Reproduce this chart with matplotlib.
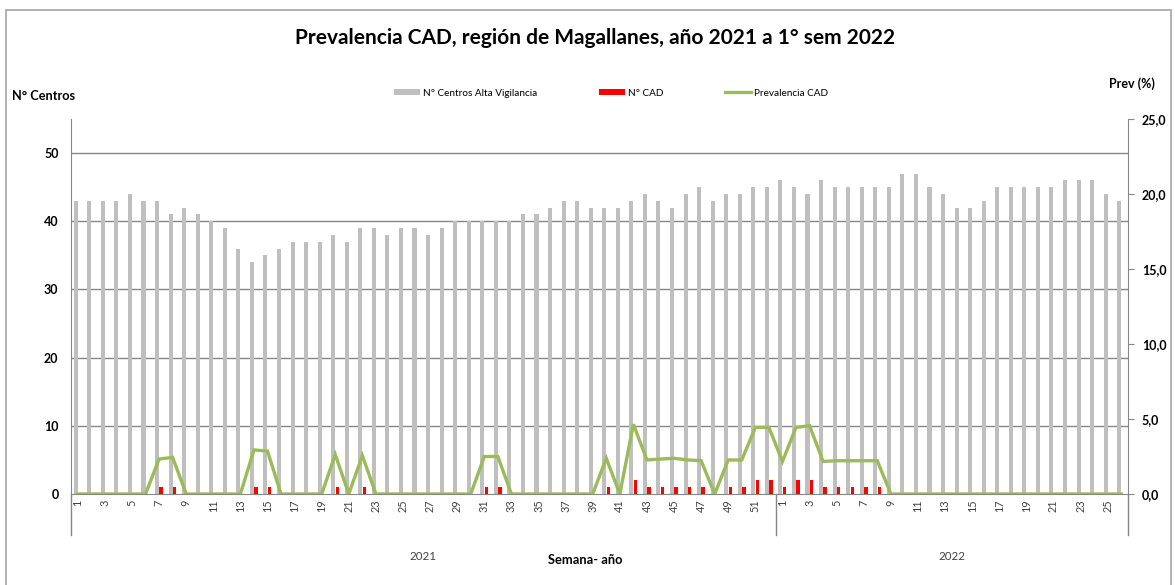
import matplotlib
matplotlib.use("Agg")
import matplotlib.pyplot as plt
from matplotlib.patches import Rectangle, Patch
from matplotlib.lines import Line2D
from matplotlib.ticker import FuncFormatter, FixedLocator
import numpy as np

plt.rcParams['font.family'] = ['Lato', 'DejaVu Sans']

# ---------------- data ----------------
weeks_2021 = list(range(1, 53))
weeks_2022 = list(range(1, 27))
week_labels = [str(w) for w in weeks_2021] + [str(w) for w in weeks_2022]
years = ["2021", "2022"]

centros_2021 = [43, 43, 43, 43, 44, 43, 43, 41, 42, 41, 40, 39, 36, 34, 35, 36, 37, 37, 37, 38,
                37, 39, 39, 38, 39, 39, 38, 39, 40, 40, 40, 40, 40, 41, 41, 42, 43, 43, 42, 42,
                42, 43, 44, 43, 42, 44, 45, 43, 44, 44, 45, 45]
centros_2022 = [46, 45, 44, 46, 45, 45, 45, 45, 45, 47, 47, 45, 44, 42, 42, 43, 45, 45, 45, 45,
                45, 46, 46, 46, 44, 43]

cad_2021 = [0, 0, 0, 0, 0, 0, 1, 1, 0, 0, 0, 0, 0, 1, 1, 0, 0, 0, 0, 1,
            0, 1, 0, 0, 0, 0, 0, 0, 0, 0, 1, 1, 0, 0, 0, 0, 0, 0, 0, 1,
            0, 2, 1, 1, 1, 1, 1, 0, 1, 1, 2, 2]
cad_2022 = [1, 2, 2, 1, 1, 1, 1, 1, 0, 0, 0, 0, 0, 0, 0, 0, 0, 0, 0, 0,
            0, 0, 0, 0, 0, 0]

prev_2021 = [0.0, 0.0, 0.0, 0.0, 0.0, 0.0, 2.33, 2.44, 0.0, 0.0, 0.0, 0.0, 0.0, 2.94, 2.86, 0.0,
             0.0, 0.0, 0.0, 2.63, 0.0, 2.56, 0.0, 0.0, 0.0, 0.0, 0.0, 0.0, 0.0, 0.0, 2.50, 2.50,
             0.0, 0.0, 0.0, 0.0, 0.0, 0.0, 0.0, 2.38, 0.0, 4.65, 2.27, 2.33, 2.38, 2.27, 2.22, 0.0,
             2.27, 2.27, 4.44, 4.44]
prev_2022 = [2.17, 4.44, 4.55, 2.17, 2.22, 2.22, 2.22, 2.22, 0.0, 0.0, 0.0, 0.0, 0.0, 0.0, 0.0,
             0.0, 0.0, 0.0, 0.0, 0.0, 0.0, 0.0, 0.0, 0.0, 0.0, 0.0]

centros = centros_2021 + centros_2022
cad = cad_2021 + cad_2022
prev = prev_2021 + prev_2022

# ---------------- style ----------------
GRAY = "#BFBFBF"
RED = "#FF0000"
GREEN = "#9BBB59"
AXIS = "#868686"

W, H = 1175, 585
fig = plt.figure(figsize=(W / 100, H / 100), dpi=100)

def fx(px):
    return px / W

def fy(py):
    return 1 - py / H

ax = fig.add_axes([fx(71), fy(494), fx(1128) - fx(71), fy(119) - fy(494)])
ax2 = ax.twinx()

x = np.arange(len(centros))
bw = 0.3
ax.bar(x - bw / 2, centros, width=bw, color=GRAY, zorder=2, label="N° Centros Alta Vigilancia")
ax.bar(x + bw / 2, cad, width=bw * 0.85, color=RED, zorder=3, label="N° CAD")
ax2.plot(x, prev, color=GREEN, lw=2.4, zorder=4, solid_joinstyle="miter", label="Prevalencia CAD")

ax.set_xlim(-0.5, len(centros) - 0.5)
ax.set_ylim(0, 55)
ax2.set_ylim(0, 25)

ax.yaxis.set_major_locator(FixedLocator([0, 10, 20, 30, 40, 50]))
ax2.yaxis.set_major_locator(FixedLocator([0, 5, 10, 15, 20, 25]))
ax2.yaxis.set_major_formatter(FuncFormatter(lambda v, p: f"{v:.1f}".replace(".", ",")))

for yv in [10, 20, 30, 40, 50]:
    ax.axhline(yv, color=AXIS, lw=1.0, zorder=1)

for a in (ax, ax2):
    a.spines["top"].set_visible(False)
ax.spines["right"].set_visible(False)
ax2.spines["left"].set_visible(False)
ax2.spines["bottom"].set_visible(False)
ax.spines["left"].set_color(AXIS)
ax.spines["bottom"].set_color(AXIS)
ax2.spines["right"].set_color(AXIS)

ax.tick_params(axis="y", length=0, pad=9, labelsize=9, colors="black")
for t in ax.get_yticklabels():
    t.set_fontweight("bold")
ax2.tick_params(axis="y", length=4, width=0.8, color=AXIS, pad=6, labelsize=9, direction="out")
for t in ax2.get_yticklabels():
    t.set_fontweight("bold")

odd_idx = [i for i, lab in enumerate(week_labels) if int(lab) % 2 == 1]
ax.set_xticks(odd_idx)
ax.set_xticklabels([week_labels[i] for i in odd_idx], rotation=90, fontsize=7.8, color="#404040")
ax.tick_params(axis="x", length=0, pad=4)

# Extended axis lines and year separator below the plot
n2021 = len(weeks_2021)
for xv in [-0.5, n2021 - 0.5, len(centros) - 0.5]:
    ax.plot([xv, xv], [0, -6.0], color=AXIS, lw=1.0, clip_on=False, transform=ax.transData, zorder=5)

ax.text((n2021 - 1) / 2, -9.2, years[0], ha="center", va="center", fontsize=8.3, color="#404040", clip_on=False)
ax.text(n2021 + (len(weeks_2022) - 1) / 2, -9.2, years[1], ha="center", va="center", fontsize=8.3,
        color="#404040", clip_on=False)

# Titles and axis titles
fig.text(fx(595), fy(38), "Prevalencia CAD, región de Magallanes, año 2021 a 1° sem 2022",
         ha="center", va="center", fontsize=15, fontweight="bold")
fig.text(fx(12), fy(96), "N° Centros", ha="left", va="center", fontsize=9.2, fontweight="bold")
fig.text(fx(1132), fy(84), "Prev (%)", ha="center", va="center", fontsize=9, fontweight="bold")
fig.text(fx(585), fy(560), "Semana- año", ha="center", va="center", fontsize=9.3, fontweight="bold")

# Legend
handles = [Patch(facecolor=GRAY, edgecolor="none"), Patch(facecolor=RED, edgecolor="none"),
           Line2D([0], [0], color=GREEN, lw=2.4)]
labels = ["N° Centros Alta Vigilancia", "N° CAD", "Prevalencia CAD"]
fig.legend(handles, labels, loc="center", bbox_to_anchor=(fx(611), fy(93)), ncol=3, frameon=False,
           fontsize=7.2, handlelength=2.6, handleheight=0.5, handletextpad=0.3, columnspacing=6.2)

# Outer chart border
fig.patches.append(Rectangle((fx(6), -0.02), fx(1171) - fx(6), fy(10) + 0.02, transform=fig.transFigure,
                             fill=False, edgecolor="#A6A6A6", lw=1.2, zorder=0))

fig.savefig("out.png", dpi=100)
